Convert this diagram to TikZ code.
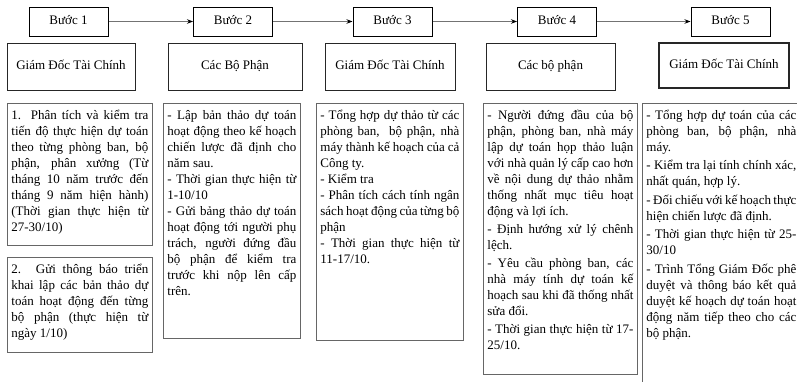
\documentclass[tikz,border=0pt]{standalone}
\usepackage{fontspec}
\setmainfont{Liberation Serif}
\usetikzlibrary{arrows.meta}
\newcommand{\brk}{\linebreak}
\newcommand{\mybox}[4]{\begin{minipage}[t][#2][t]{#1}\fontsize{13}{16}\selectfont\setlength{\parindent}{0pt}\setlength{\parskip}{#3}\hyphenpenalty=10000\tolerance=10000\emergencystretch=0pt\rule{0pt}{14pt}#4\end{minipage}}
\tikzset{
  stepbox/.style={draw=black, line width=1pt, minimum width=79pt, minimum height=29pt, inner sep=0pt, text height=9.5pt, text depth=3pt, font=\fontsize{13}{15}\selectfont},
  rolebox/.style={draw=black!85, line width=0.9pt, minimum height=47pt, inner sep=0pt, text height=9.5pt, text depth=3pt, font=\fontsize{13}{15}\selectfont},
  textbox/.style={draw=black!60, line width=0.8pt, anchor=north west, inner xsep=4pt, inner ysep=2pt},
  flow/.style={draw=black!55, line width=0.7pt, -{Stealth[length=6pt,width=4.5pt,black]}}
}
\begin{document}
\begin{tikzpicture}[x=1pt,y=-1pt]
\useasboundingbox (0,0) rectangle (797,381);
% step boxes
\node[stepbox] (s1) at (68.5,21.5) {Bước 1};
\node[stepbox] (s2) at (233,21.5) {Bước 2};
\node[stepbox] (s3) at (392.5,21.5) {Bước 3};
\node[stepbox] (s4) at (557,21.5) {Bước 4};
\node[stepbox] (s5) at (730.5,21.5) {Bước 5};
\draw[flow] (s1) -- (s2);
\draw[flow] (s2) -- (s3);
\draw[flow] (s3) -- (s4);
\draw[flow] (s4) -- (s5);
% role boxes
\node[rolebox, minimum width=128pt] (r1) at (71,66.5) {Giám Đốc Tài Chính};
\node[rolebox, minimum width=134pt] (r2) at (235,66.5) {Các Bộ Phận};
\node[rolebox, minimum width=130pt] (r3) at (390,66.5) {Giám Đốc Tài Chính};
\node[rolebox, minimum width=129pt] (r4) at (550.5,66.5) {Các bộ phận};
\node[rolebox, minimum width=130pt, minimum height=45pt, line width=1.5pt] (r5) at (724,65.5) {Giám Đốc Tài Chính};
% text boxes
\node[textbox] (t1a) at (7,103) {\mybox{137pt}{138pt}{0pt}{%
1. Phân tích và kiểm tra\brk
tiến độ thực hiện dự toán\brk
theo từng phòng ban, bộ\brk
phận, phân xưởng (Từ\brk
tháng 10 năm trước đến\brk
tháng 9 năm hiện hành)\brk
(Thời gian thực hiện từ\brk
27-30/10)}};
\node[textbox] (t1b) at (7,257) {\mybox{137pt}{91pt}{0pt}{%
2. Gửi thông báo triển\brk
khai lập các bản thảo dự\brk
toán hoạt động đến từng\brk
bộ phận (thực hiện từ\brk
ngày 1/10)}};
\node[textbox] (t2) at (163,103) {\mybox{129pt}{231pt}{0pt}{%
- Lập bản thảo dự toán\brk
hoạt động theo kế hoạch\brk
chiến lược đã định cho\brk
năm sau.\par
- Thời gian thực hiện từ\brk
1-10/10\par
- Gửi bảng thảo dự toán\brk
hoạt động tới người phụ\brk
trách, người đứng đầu\brk
bộ phận để kiểm tra\brk
trước khi nộp lên cấp\brk
trên.}};
\node[textbox] (t3) at (316,103) {\mybox{139pt}{233pt}{0pt}{%
- Tổng hợp dự thảo từ các\brk
phòng ban,\ \ bộ phận, nhà\brk
máy thành kế hoạch của cả\brk
Công ty.\par
- Kiểm tra\par
- Phân tích cách tính ngân\brk
sách hoạt động của từng bộ\brk
phận\par
- Thời gian thực hiện từ\brk
11-17/10.}};
\node[textbox] (t4) at (483,103) {\mybox{146pt}{267pt}{2pt}{%
- Người đứng đầu của bộ\brk
phận, phòng ban, nhà máy\brk
lập dự toán họp thảo luận\brk
với nhà quản lý cấp cao hơn\brk
về nội dung dự thảo nhằm\brk
thống nhất mục tiêu hoạt\brk
động và lợi ích.\par
- Định hướng xử lý chênh\brk
lệch.\par
- Yêu cầu phòng ban, các\brk
nhà máy tính dự toán kế\brk
hoạch sau khi đã thống nhất\brk
sửa đổi.\par
- Thời gian thực hiện từ 17-\brk
25/10.}};
\node[textbox] (t5) at (642,103) {\mybox{150pt}{283pt}{2.5pt}{%
- Tổng hợp dự toán của các\brk
phòng ban, bộ phận, nhà\brk
máy.\par
- Kiểm tra lại tính chính xác,\brk
nhất quán, hợp lý.\par
- Đối chiếu với kế hoạch thực\brk
hiện chiến lược đã định.\par
- Thời gian thực hiện từ 25-\brk
30/10\par
- Trình Tổng Giám Đốc phê\brk
duyệt và thông báo kết quả\brk
duyệt kế hoạch dự toán hoạt\brk
động năm tiếp theo cho các\brk
bộ phận.}};
\end{tikzpicture}
\end{document}
